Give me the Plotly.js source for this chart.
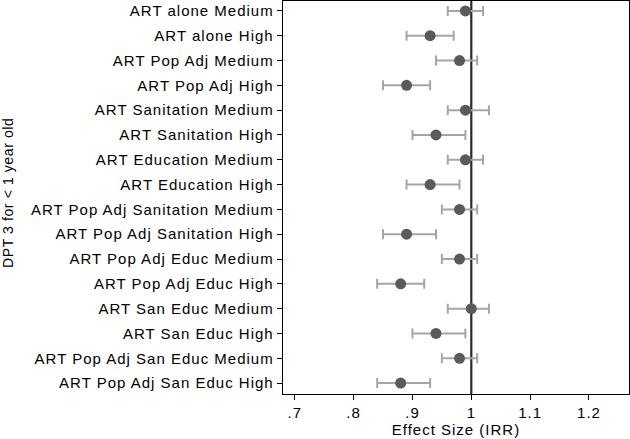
<!DOCTYPE html>
<html><head><meta charset="utf-8">
<script src="https://cdn.plot.ly/plotly-3.0.1.min.js"></script>
<style>html,body{margin:0;padding:0;background:#fff}#c{width:630px;height:439px}
#c text{letter-spacing:1px}
#c .annotation text{letter-spacing:0.6px}</style>
</head><body><div id="c"></div>
<script>
const labels = ["ART alone Medium","ART alone High","ART Pop Adj Medium","ART Pop Adj High",
"ART Sanitation Medium","ART Sanitation High","ART Education Medium","ART Education High",
"ART Pop Adj Sanitation Medium","ART Pop Adj Sanitation High","ART Pop Adj Educ Medium","ART Pop Adj Educ High",
"ART San Educ Medium","ART San Educ High","ART Pop Adj San Educ Medium","ART Pop Adj San Educ High"];
const irr   = [0.99,0.93,0.98,0.89,0.99,0.94,0.99,0.93,0.98,0.89,0.98,0.88,1.00,0.94,0.98,0.88];
const lower = [0.96,0.89,0.94,0.85,0.96,0.90,0.96,0.89,0.95,0.85,0.95,0.84,0.96,0.90,0.95,0.84];
const upper = [1.02,0.97,1.01,0.93,1.03,0.99,1.02,0.98,1.01,0.94,1.01,0.92,1.03,0.99,1.01,0.93];
const xTicks = [0.7,0.8,0.9,1.0,1.1,1.2];
const xTickText = [".7",".8",".9","1","1.1","1.2"];
const refLine = 1;
const yTitle = "DPT 3 for < 1 year old";

const font = "Liberation Sans, Arial, sans-serif";
const traces = [
  {type:"scatter", mode:"markers", x:irr, y:labels,
   error_x:{type:"data", symmetric:false,
     array: upper.map((u,i)=>u-irr[i]), arrayminus: irr.map((v,i)=>v-lower[i]),
     color:"#a6a6a6", thickness:2, width:5},
   marker:{color:"#5a5a5a", size:11}, showlegend:false}
];
const layout = {
  width:630, height:439,
  margin:{l:283, r:1, t:1, b:45},
  paper_bgcolor:"#fff", plot_bgcolor:"#fff",
  font:{family:font, color:"#000", size:15},
  shapes:[{type:"line", xref:"x", yref:"paper", x0:refLine, x1:refLine, y0:0, y1:1,
    line:{color:"#2a2a2a", width:2.2}, layer:"below"}],
  annotations:[{text:yTitle, xref:"paper", yref:"paper", x:-0.795, y:0.513, xanchor:"center", yanchor:"middle",
    textangle:-90, showarrow:false, font:{size:14, color:"#000"}}],
  xaxis:{range:[0.68,1.268], tickvals:xTicks, ticktext:xTickText, ticks:"outside", ticklen:5,
    tickcolor:"#000", showgrid:false, zeroline:false, showline:true, linecolor:"#000", linewidth:1.3, mirror:true,
    tickfont:{size:15}, title:{text:"Effect Size (IRR)", font:{size:15}, standoff:0}},
  yaxis:{type:"category", categoryorder:"array", categoryarray:labels, range:[15.44,-0.4],
    ticks:"outside", ticklen:5, tickcolor:"#000",
    showgrid:false, zeroline:false, showline:true, linecolor:"#000", linewidth:1.3, mirror:true,
    tickfont:{size:15}}
};
Plotly.newPlot("c", traces, layout, {staticPlot:true});
</script></body></html>
